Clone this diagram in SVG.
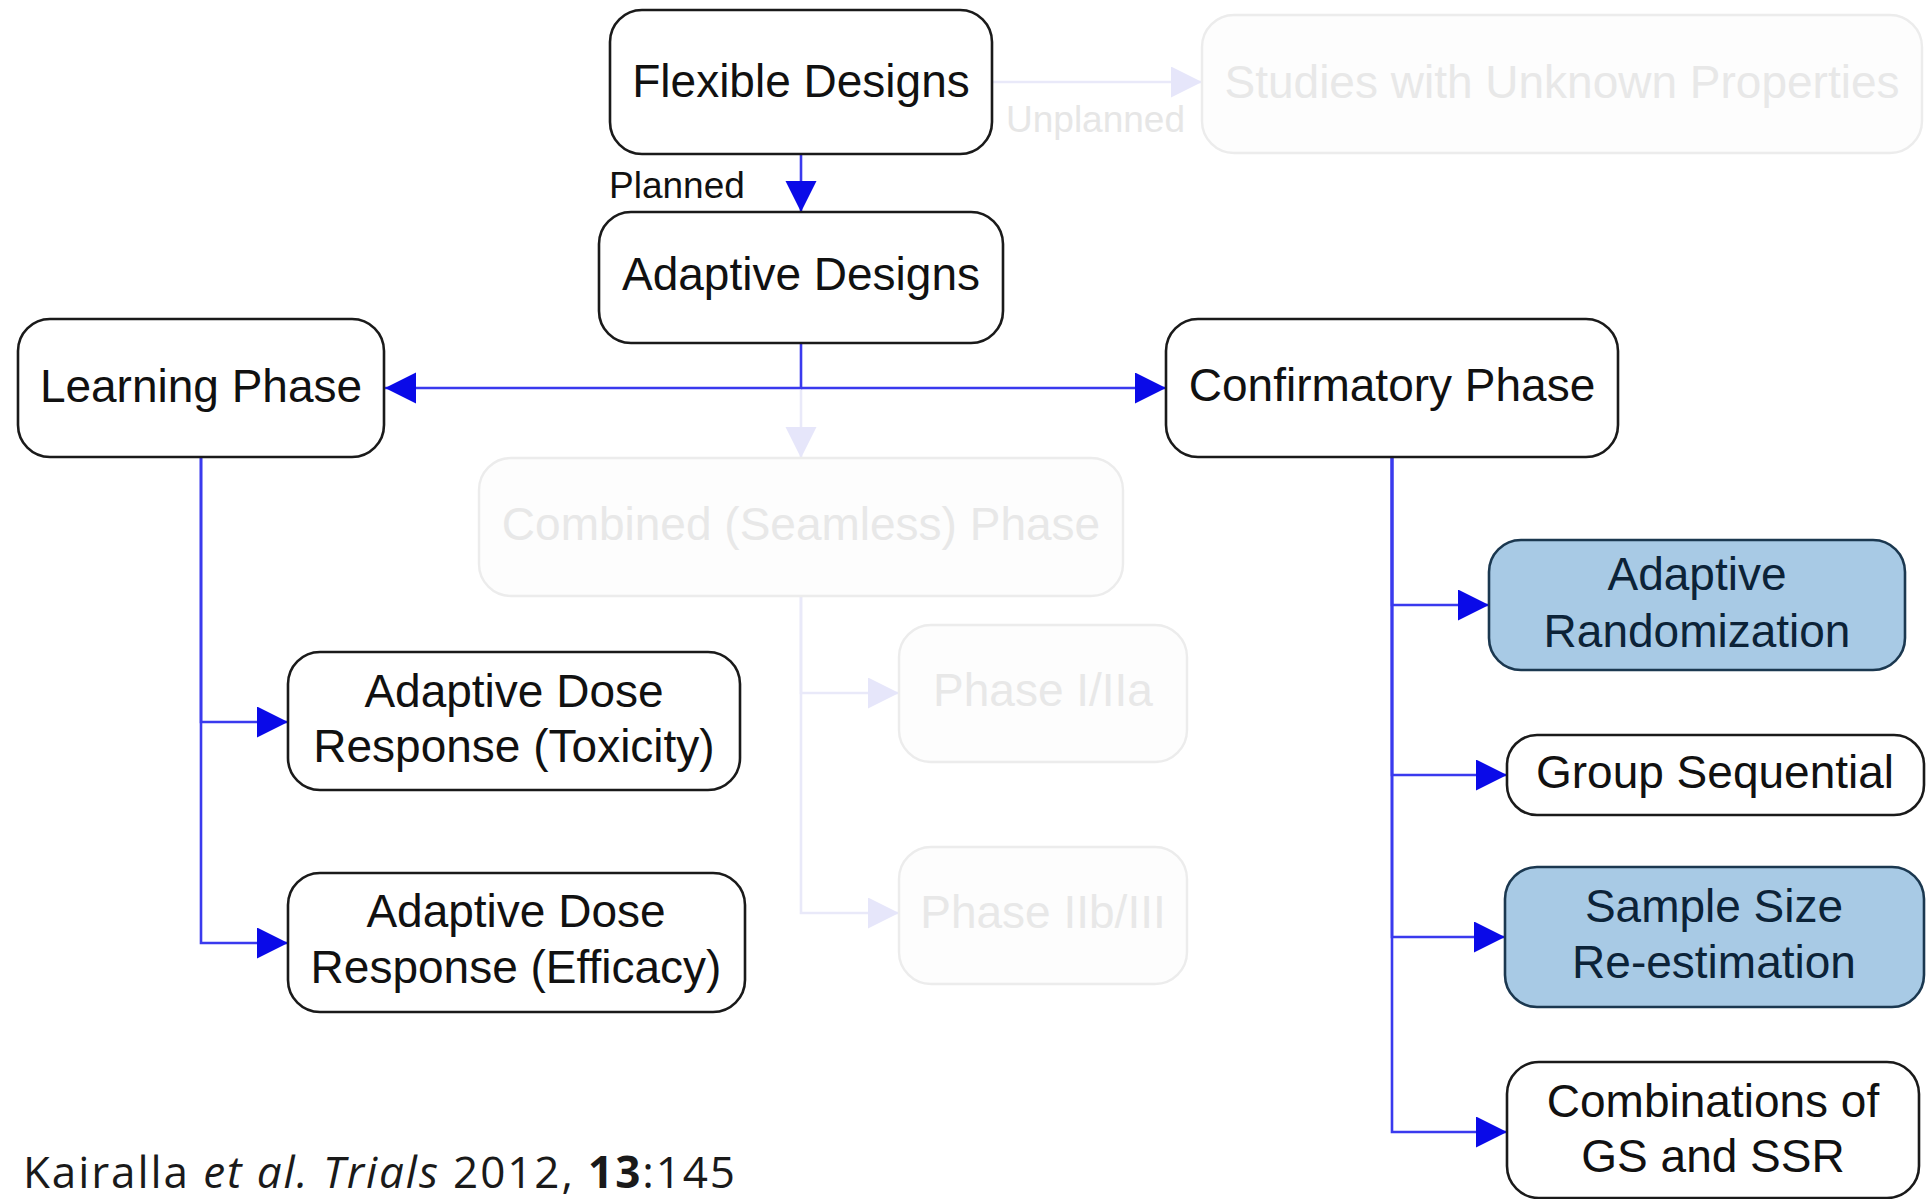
<svg xmlns="http://www.w3.org/2000/svg" width="1929" height="1199" viewBox="0 0 1929 1199">
  <defs>
    <style>
      .box { fill: #ffffff; stroke: #1a1a1a; stroke-width: 2.6; }
      .hl { fill: #a8cae5; stroke: #1b3850; stroke-width: 2.6; }
      .dim { fill: #fdfdfd; stroke: #ececec; stroke-width: 2.4; }
      .lbl { font-family: "Liberation Sans", Arial, sans-serif; font-size: 46px; fill: #111111; text-anchor: middle; }
      .lbl-hl { fill: #0c2338; }
      .lbl-dim { fill: #e8e8e8; }
      .edge { fill: none; stroke: #3a3aee; stroke-width: 2.6; }
      .edge-dim { fill: none; stroke: #e9e9f9; stroke-width: 2.6; }
      .note { font-family: "Liberation Sans", Arial, sans-serif; font-size: 37px; fill: #111111; }
      .cite { font-family: "Open Sans", "Noto Sans", sans-serif; font-size: 44px; fill: #1a1a1a; }
    </style>
    <marker id="arrow" markerUnits="userSpaceOnUse" markerWidth="32" markerHeight="32" refX="31" refY="15.5" orient="auto">
      <path d="M0,0 L31,15.5 L0,31 z" fill="#0a0ae8"/>
    </marker>
    <marker id="arrow-dim" markerUnits="userSpaceOnUse" markerWidth="32" markerHeight="32" refX="31" refY="15.5" orient="auto">
      <path d="M0,0 L31,15.5 L0,31 z" fill="#e6e6fa"/>
    </marker>
  </defs>

  <rect width="1929" height="1199" fill="#ffffff"/>

  <!-- connectors -->
  <g id="connectors">
    <path class="edge-dim" d="M992,82 H1202" marker-end="url(#arrow-dim)"/>
    <path class="edge-dim" d="M801,390 V458" marker-end="url(#arrow-dim)"/>
    <path class="edge-dim" d="M801,596 V693 H899" marker-end="url(#arrow-dim)"/>
    <path class="edge-dim" d="M801,596 V913 H899" marker-end="url(#arrow-dim)"/>

    <path class="edge" d="M801,154 V212" marker-end="url(#arrow)"/>
    <path class="edge" d="M801,343 V388 H385" marker-end="url(#arrow)"/>
    <path class="edge" d="M801,388 H1166" marker-end="url(#arrow)"/>

    <path class="edge" d="M201,457 V722 H288" marker-end="url(#arrow)"/>
    <path class="edge" d="M201,457 V943 H288" marker-end="url(#arrow)"/>

    <path class="edge" d="M1392,457 V605 H1489" marker-end="url(#arrow)"/>
    <path class="edge" d="M1392,457 V775 H1507" marker-end="url(#arrow)"/>
    <path class="edge" d="M1392,457 V937 H1505" marker-end="url(#arrow)"/>
    <path class="edge" d="M1392,457 V1132 H1507" marker-end="url(#arrow)"/>

    <text class="note" x="609" y="198">Planned</text>
    <text class="note" x="1006" y="132" style="fill:#e6e6e6">Unplanned</text>
  </g>

  <g id="flexible-designs">
    <rect class="box" x="610" y="10" width="382" height="144" rx="32"/>
    <text class="lbl" x="801" y="97">Flexible Designs</text>
  </g>

  <g id="unknown-properties">
    <rect class="dim" x="1202" y="15" width="720" height="138" rx="32"/>
    <text class="lbl lbl-dim" x="1562" y="98">Studies with Unknown Properties</text>
  </g>

  <g id="adaptive-designs">
    <rect class="box" x="599" y="212" width="404" height="131" rx="32"/>
    <text class="lbl" x="801" y="290">Adaptive Designs</text>
  </g>

  <g id="learning-phase">
    <rect class="box" x="18" y="319" width="366" height="138" rx="32"/>
    <text class="lbl" x="201" y="402">Learning Phase</text>
  </g>

  <g id="confirmatory-phase">
    <rect class="box" x="1166" y="319" width="452" height="138" rx="32"/>
    <text class="lbl" x="1392" y="401">Confirmatory Phase</text>
  </g>

  <g id="combined-phase">
    <rect class="dim" x="479" y="458" width="644" height="138" rx="32"/>
    <text class="lbl lbl-dim" x="801" y="540">Combined (Seamless) Phase</text>
  </g>

  <g id="phase-1-2a">
    <rect class="dim" x="899" y="625" width="288" height="137" rx="32"/>
    <text class="lbl lbl-dim" x="1043" y="706">Phase I/IIa</text>
  </g>

  <g id="phase-2b-3">
    <rect class="dim" x="899" y="847" width="288" height="137" rx="32"/>
    <text class="lbl lbl-dim" x="1043" y="928">Phase IIb/III</text>
  </g>

  <g id="dose-toxicity">
    <rect class="box" x="288" y="652" width="452" height="138" rx="32"/>
    <text class="lbl" x="514" y="707">Adaptive Dose</text>
    <text class="lbl" x="514" y="762">Response (Toxicity)</text>
  </g>

  <g id="dose-efficacy">
    <rect class="box" x="288" y="873" width="457" height="139" rx="32"/>
    <text class="lbl" x="516" y="927">Adaptive Dose</text>
    <text class="lbl" x="516" y="983">Response (Efficacy)</text>
  </g>

  <g id="adaptive-randomization">
    <rect class="hl" x="1489" y="540" width="416" height="130" rx="32"/>
    <text class="lbl lbl-hl" x="1697" y="590">Adaptive</text>
    <text class="lbl lbl-hl" x="1697" y="647">Randomization</text>
  </g>

  <g id="group-sequential">
    <rect class="box" x="1507" y="735" width="417" height="80" rx="30"/>
    <text class="lbl" x="1715" y="788">Group Sequential</text>
  </g>

  <g id="sample-size">
    <rect class="hl" x="1505" y="867" width="419" height="140" rx="32"/>
    <text class="lbl lbl-hl" x="1714" y="922">Sample Size</text>
    <text class="lbl lbl-hl" x="1714" y="978">Re-estimation</text>
  </g>

  <g id="gs-ssr">
    <rect class="box" x="1507" y="1062" width="412" height="136" rx="32"/>
    <text class="lbl" x="1713" y="1117">Combinations of</text>
    <text class="lbl" x="1713" y="1172">GS and SSR</text>
  </g>

  <text class="cite" x="23" y="1188" textLength="712">Kairalla <tspan font-style="italic">et al.</tspan> <tspan font-style="italic">Trials</tspan> 2012, <tspan font-weight="bold">13</tspan>:145</text>
</svg>
